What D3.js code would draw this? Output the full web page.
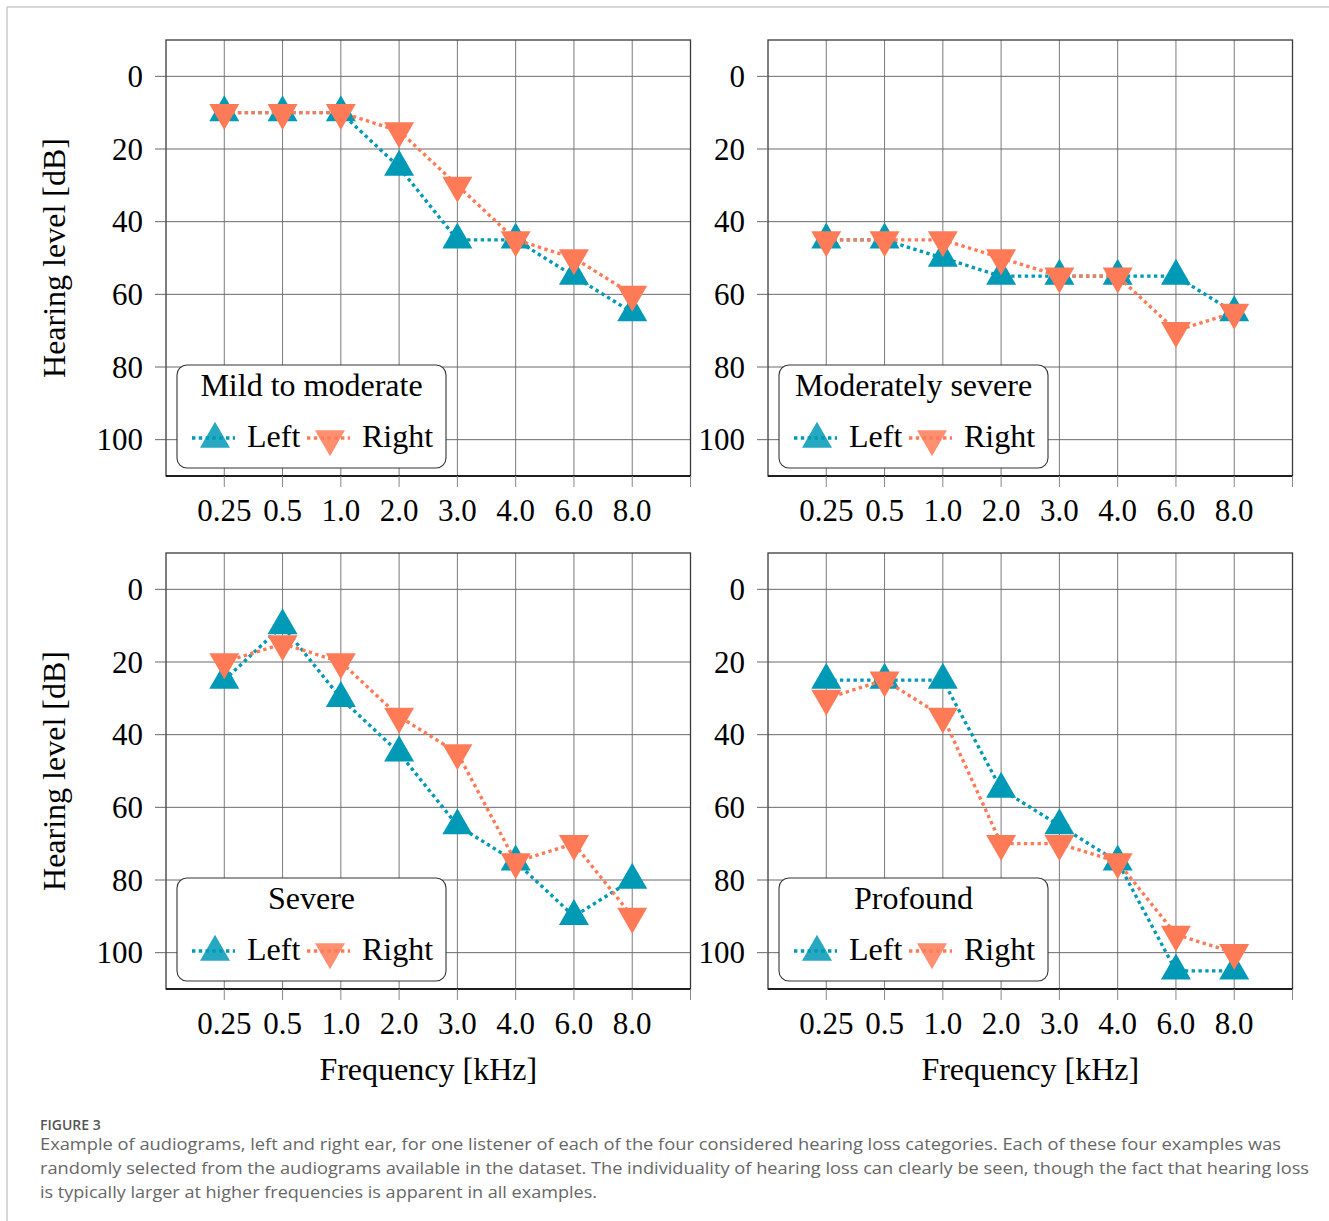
<!DOCTYPE html>
<html>
<head>
<meta charset="utf-8">
<script src="https://cdn.jsdelivr.net/npm/d3@7"></script>
<style>
  body { margin: 0; background: #fff; }
  svg text { font-family: "Liberation Serif", "Times New Roman", serif; }
  svg text.caption { font-family: "Open Sans", "Noto Sans", sans-serif; }
</style>
</head>
<body>
<div id="chart"></div>
<script>
// tick labels and categories
var freqLabels = ["0.25", "0.5", "1.0", "2.0", "3.0", "4.0", "6.0", "8.0"];
var levelTicks = [0, 20, 40, 60, 80, 100];
var categories = ["Mild to moderate", "Moderately severe", "Severe", "Profound"];

// hearing level per frequency [dB], left and right ear
var leftMild      = [10, 10, 10, 25, 45, 45, 55, 65];
var rightMild     = [10, 10, 10, 15, 30, 45, 50, 60];
var leftModSevere  = [45, 45, 50, 55, 55, 55, 55, 65];
var rightModSevere = [45, 45, 45, 50, 55, 55, 70, 65];
var leftSevere    = [25, 10, 30, 45, 65, 75, 90, 80];
var rightSevere   = [20, 15, 20, 35, 45, 75, 70, 90];
var leftProfound  = [25, 25, 25, 55, 65, 75, 105, 105];
var rightProfound = [30, 25, 35, 70, 70, 75, 95, 100];

var leftSeries  = [leftMild, leftModSevere, leftSevere, leftProfound];
var rightSeries = [rightMild, rightModSevere, rightSevere, rightProfound];

var W = 1329, H = 1221;
var teal = "#0099b6", coral = "#ff7b58";
var fontSize = 31, titleSize = 32;

var svg = d3.select("#chart").append("svg")
    .attr("width", W)
    .attr("height", H);

// page border (top and left)
svg.append("line").attr("x1", 7).attr("y1", 7).attr("x2", W).attr("y2", 7)
   .attr("stroke", "#c8c8c8").attr("stroke-width", 1.5);
svg.append("line").attr("x1", 7).attr("y1", 7).attr("x2", 7).attr("y2", H)
   .attr("stroke", "#c8c8c8").attr("stroke-width", 1.5);

var pw = 524.5, ph = 436;
var origins = [[166, 40], [768, 40], [166, 553], [768, 553]];

var x = d3.scaleLinear().domain([0, freqLabels.length + 1]).range([0, pw]);
var y = d3.scaleLinear().domain([-10, 110]).range([0, ph]);

var tri = d3.symbol().type(d3.symbolTriangle).size(390);

function drawSeries(g, values, color, down) {
	var line = d3.line()
		.x(function(d, i) { return x(i + 1); })
		.y(function(d) { return y(d); });
	g.append("path")
	 .datum(values)
	 .attr("d", line)
	 .attr("fill", "none")
	 .attr("stroke", color)
	 .attr("stroke-width", 3.4)
	 .attr("stroke-dasharray", "3.4,3.4");
	g.selectAll(null)
	 .data(values)
	 .enter()
	 .append("path")
	 .attr("d", tri)
	 .attr("transform", function(d, i) {
		return "translate(" + x(i + 1) + "," + y(d) + ")" + (down ? " rotate(180)" : "");
	 })
	 .attr("fill", color);
}

categories.forEach(function(cat, k) {
	var ox = origins[k][0], oy = origins[k][1];
	var g = svg.append("g").attr("transform", "translate(" + ox + "," + oy + ")");

	// grid
	g.selectAll(".vgrid")
	 .data(d3.range(1, freqLabels.length + 1))
	 .enter().append("line")
	 .attr("x1", d => x(d)).attr("x2", d => x(d))
	 .attr("y1", 0).attr("y2", ph)
	 .attr("stroke", "#7a7a7a").attr("stroke-width", 1);
	g.selectAll(".hgrid")
	 .data(levelTicks)
	 .enter().append("line")
	 .attr("x1", 0).attr("x2", pw)
	 .attr("y1", d => y(d)).attr("y2", d => y(d))
	 .attr("stroke", "#6a6a6a").attr("stroke-width", 1);

	// frame
	g.append("rect")
	 .attr("x", 0).attr("y", 0).attr("width", pw).attr("height", ph)
	 .attr("fill", "none").attr("stroke", "#3a3a3a").attr("stroke-width", 1.3);
	g.append("line")
	 .attr("x1", 0).attr("x2", pw).attr("y1", ph).attr("y2", ph)
	 .attr("stroke", "#000").attr("stroke-width", 1.5);

	// x ticks
	g.selectAll(".xtick")
	 .data(d3.range(1, freqLabels.length + 2))
	 .enter().append("line")
	 .attr("x1", d => x(d)).attr("x2", d => x(d))
	 .attr("y1", ph).attr("y2", ph + 11)
	 .attr("stroke", "#888").attr("stroke-width", 1);
	g.selectAll(".xlab")
	 .data(freqLabels)
	 .enter().append("text")
	 .attr("x", (d, i) => x(i + 1))
	 .attr("y", ph + 45)
	 .attr("text-anchor", "middle")
	 .style("font-size", fontSize + "px")
	 .text(d => d);

	// y ticks
	g.selectAll(".ytick")
	 .data(levelTicks)
	 .enter().append("line")
	 .attr("x1", -11).attr("x2", 0)
	 .attr("y1", d => y(d)).attr("y2", d => y(d))
	 .attr("stroke", "#666").attr("stroke-width", 1);
	g.selectAll(".ylab")
	 .data(levelTicks)
	 .enter().append("text")
	 .attr("x", -23)
	 .attr("y", d => y(d) + 10.5)
	 .attr("text-anchor", "end")
	 .style("font-size", fontSize + "px")
	 .text(d => d);

	// series
	drawSeries(g, leftSeries[k], teal, false);
	drawSeries(g, rightSeries[k], coral, true);

	// legend
	var lg = g.append("g").attr("transform", "translate(11," + 325 + ")");
	lg.append("rect")
	  .attr("width", 269).attr("height", 103)
	  .attr("rx", 10).attr("ry", 10)
	  .attr("fill", "#fff").attr("stroke", "#333").attr("stroke-width", 1.1);
	lg.append("text")
	  .attr("x", 134.5).attr("y", 31)
	  .attr("text-anchor", "middle")
	  .style("font-size", titleSize + "px")
	  .text(cat);
	var entries = [
		{name: "Left", color: teal, down: false, x0: 15},
		{name: "Right", color: coral, down: true, x0: 130}
	];
	entries.forEach(function(e) {
		lg.append("path")
		  .attr("d", tri)
		  .attr("transform", "translate(" + (e.x0 + 23) + ",74)" + (e.down ? " rotate(180)" : ""))
		  .attr("fill", e.color).attr("opacity", 0.85);
		lg.append("line")
		  .attr("x1", e.x0).attr("x2", e.x0 + 43)
		  .attr("y1", 73).attr("y2", 73)
		  .attr("stroke", e.color).attr("stroke-width", 3.4)
		  .attr("stroke-dasharray", "3.4,3.4");
		lg.append("text")
		  .attr("x", e.x0 + 55).attr("y", 82)
		  .style("font-size", titleSize + "px")
		  .text(e.name);
	});

	// axis titles
	if (k % 2 === 0) {
		svg.append("text")
		   .attr("transform", "translate(" + (ox - 101) + "," + (oy + ph / 2) + ") rotate(-90)")
		   .attr("text-anchor", "middle")
		   .style("font-size", titleSize + "px")
		   .text("Hearing level [dB]");
	}
	if (k >= 2) {
		svg.append("text")
		   .attr("x", ox + pw / 2)
		   .attr("y", oy + ph + 91)
		   .attr("text-anchor", "middle")
		   .style("font-size", titleSize + "px")
		   .text("Frequency [kHz]");
	}
});

// caption
var captionLines = [
	"Example of audiograms, left and right ear, for one listener of each of the four considered hearing loss categories. Each of these four examples was",
	"randomly selected from the audiograms available in the dataset. The individuality of hearing loss can clearly be seen, though the fact that hearing loss",
	"is typically larger at higher frequencies is apparent in all examples."
];
var captionWidths = [1241, 1269, 557];
svg.append("text")
   .attr("class", "caption")
   .attr("x", 40).attr("y", 1130)
   .attr("fill", "#555")
   .style("font-size", "14px")
   .style("font-weight", 600)
   .text("FIGURE 3");
svg.selectAll(".capline")
   .data(captionLines)
   .enter().append("text")
   .attr("class", "caption")
   .attr("x", 40)
   .attr("y", (d, i) => 1150 + i * 24)
   .attr("fill", "#666")
   .attr("textLength", (d, i) => captionWidths[i])
   .attr("lengthAdjust", "spacingAndGlyphs")
   .style("font-size", "17px")
   .text(d => d);
</script>
</body>
</html>
